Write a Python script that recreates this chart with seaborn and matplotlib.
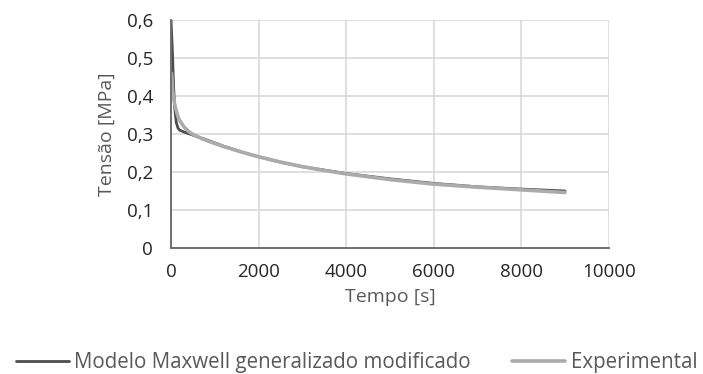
import matplotlib
matplotlib.use("Agg")
import matplotlib.pyplot as plt
import seaborn as sns
import pandas as pd

# Stress relaxation: model vs experiment
tempo_modelo = [0, 30, 60, 90, 120, 160, 200, 300, 500, 800, 1200, 1600, 2000,
                2500, 3000, 3500, 4000, 5000, 6000, 7000, 8000, 9000]
tensao_modelo = [0.60, 0.52, 0.42, 0.36, 0.33, 0.315, 0.310, 0.305, 0.297, 0.285,
                 0.268, 0.253, 0.240, 0.226, 0.214, 0.205, 0.196, 0.182, 0.170,
                 0.161, 0.155, 0.150]

tempo_exp = [10, 40, 80, 120, 160, 200, 300, 400, 500, 700, 900, 1200, 1600, 2000,
             2500, 3000, 3500, 4000, 5000, 6000, 7000, 8000, 9000]
tensao_exp = [0.46, 0.41, 0.38, 0.36, 0.345, 0.335, 0.318, 0.307, 0.299, 0.288,
              0.279, 0.267, 0.253, 0.240, 0.226, 0.214, 0.204, 0.195, 0.180,
              0.168, 0.160, 0.153, 0.146]

serie_modelo = "Modelo Maxwell generalizado modificado"
serie_exp = "Experimental"

x_ticks = [0, 2000, 4000, 6000, 8000, 10000]
y_ticks = [0, 0.1, 0.2, 0.3, 0.4, 0.5, 0.6]

df = pd.concat([
    pd.DataFrame({"t": tempo_modelo, "s": tensao_modelo, "serie": serie_modelo}),
    pd.DataFrame({"t": tempo_exp, "s": tensao_exp, "serie": serie_exp}),
], ignore_index=True)

sns.set_theme(style="white")
plt.rcParams["font.family"] = ["Open Sans", "DejaVu Sans"]

fig = plt.figure(figsize=(7.03, 3.74), dpi=100)
ax = fig.add_axes([0.2433, 0.337, 0.6227, 0.6095])

palette = {serie_modelo: "#4d4d4d", serie_exp: "#ababab"}
sns.lineplot(data=df[df.serie == serie_modelo], x="t", y="s", hue="serie",
             palette=palette, linewidth=2.0, ax=ax, sort=False, estimator=None)
sns.lineplot(data=df[df.serie == serie_exp], x="t", y="s", hue="serie",
             palette=palette, linewidth=2.6, ax=ax, sort=False, estimator=None)

ax.set_xlim(0, 10000)
ax.set_ylim(0, 0.6)
ax.set_xticks(x_ticks)
ax.set_yticks(y_ticks)
ax.set_xticklabels([str(v) for v in x_ticks])
ax.set_yticklabels(["0"] + [f"{v:.1f}".replace(".", ",") for v in y_ticks[1:]])
ax.tick_params(axis="both", length=0, labelsize=13.5, colors="#262626")
ax.tick_params(axis="y", pad=13)
ax.tick_params(axis="x", pad=11)

ax.grid(True, color="#d9d9d9", linewidth=1.2)
ax.set_axisbelow(True)
for side in ["top", "right"]:
    ax.spines[side].set_visible(False)
for side in ["left", "bottom"]:
    ax.spines[side].set_color("#6e6e6e")
    ax.spines[side].set_linewidth(1.4)

ax.set_xlabel("Tempo [s]", fontsize=14, color="#595959", labelpad=5)
ax.set_ylabel("Tensão [MPa]", fontsize=14, color="#595959", labelpad=8)

handles, labels = ax.get_legend_handles_labels()
ax.legend_.remove()
leg = fig.legend(handles, labels, loc="center", bbox_to_anchor=(0.507, 0.03),
                 ncol=2, frameon=False, fontsize=14.8, handlelength=2.6,
                 handletextpad=0.25, columnspacing=2.0, borderpad=0)
for txt in leg.get_texts():
    txt.set_color("#595959")

fig.savefig("out.png", dpi=100)
